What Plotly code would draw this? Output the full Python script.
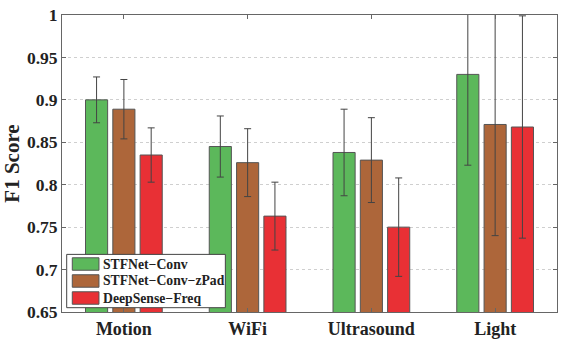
import plotly.graph_objects as go

# F1 scores per dataset
datasets = ["Motion", "WiFi", "Ultrasound", "Light"]
methods = ["STFNet\u2212Conv", "STFNet\u2212Conv\u2212zPad", "DeepSense\u2212Freq"]

stfnet_conv = [0.900, 0.845, 0.838, 0.930]
stfnet_conv_err = [0.027, 0.036, 0.051, 0.107]

stfnet_zpad = [0.889, 0.826, 0.829, 0.871]
stfnet_zpad_err = [0.035, 0.040, 0.050, 0.131]

deepsense_freq = [0.835, 0.763, 0.750, 0.868]
deepsense_freq_err = [0.032, 0.040, 0.058, 0.131]

colors = ["#5cb85b", "#ad663a", "#e83035"]
FONT = "Liberation Serif"


def generate_chart():
    fig = go.Figure()
    series = [(stfnet_conv, stfnet_conv_err),
              (stfnet_zpad, stfnet_zpad_err),
              (deepsense_freq, deepsense_freq_err)]
    for name, (vals, errs), col in zip(methods, series, colors):
        fig.add_trace(go.Bar(
            x=datasets, y=vals, name=name,
            marker=dict(color=col, line=dict(color="#555555", width=1)),
            error_y=dict(type="data", array=errs, visible=True,
                         color="#444444", thickness=1, width=3.5),
            showlegend=False))

    # hand-made legend (matlab style, wide swatches, tight rows)
    fig.add_shape(type="rect", xref="paper", yref="paper",
                  x0=0.0095, x1=0.33, y0=0.0145, y1=0.194,
                  fillcolor="white", line=dict(color="#444444", width=1))
    row_y = [0.1616, 0.1044, 0.0471]
    for name, col, yy in zip(methods, colors, row_y):
        fig.add_shape(type="rect", xref="paper", yref="paper",
                      x0=0.0208, x1=0.0747, y0=yy - 0.021, y1=yy + 0.021,
                      fillcolor=col, line=dict(color="#555555", width=1))
        fig.add_annotation(xref="paper", yref="paper", x=0.0795, y=yy,
                           xanchor="left", yanchor="middle", showarrow=False,
                           text=name,
                           font=dict(family=FONT, size=13.7, weight="bold",
                                     color="#222222"))

    fig.update_layout(
        width=561, height=342,
        margin=dict(l=62, r=4, t=15, b=30),
        paper_bgcolor="white", plot_bgcolor="white",
        barmode="group", bargap=0.338, bargroupgap=0.19,
        font=dict(family=FONT, color="#222222"),
        showlegend=False,
    )
    fig.update_yaxes(
        range=[0.65, 1], dtick=0.05, tick0=0.65,
        showline=True, linecolor="#666666", linewidth=1, mirror="ticks",
        ticks="inside", ticklen=4, tickcolor="#666666",
        showgrid=True, gridcolor="#cfcfcf", griddash="dot", gridwidth=1,
        zeroline=False,
        tickfont=dict(family=FONT, size=17.5, weight="bold"),
        title=dict(text="F1 Score", standoff=8,
                   font=dict(family=FONT, size=21, weight="bold")))
    fig.update_xaxes(
        showline=True, linecolor="#666666", linewidth=1, mirror="ticks",
        ticks="inside", ticklen=4, tickcolor="#666666",
        tickfont=dict(family=FONT, size=18, weight="bold"))
    return fig


if __name__ == "__main__":
    fig = generate_chart()
    fig.write_html("out.html", config={"displayModeBar": False},
                   post_script="document.body.style.margin='0';")
